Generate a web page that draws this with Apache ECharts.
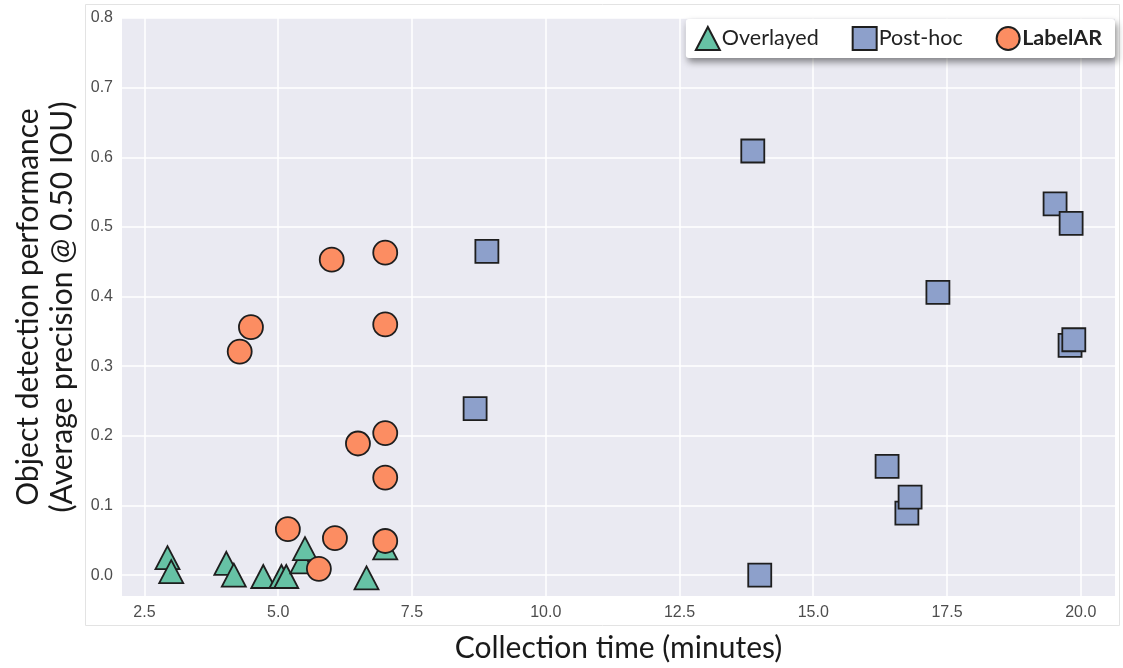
<!DOCTYPE html>
<html>
<head>
<meta charset="utf-8">
<script src="https://cdn.jsdelivr.net/npm/echarts@6/dist/echarts.min.js"></script>
<style>
html,body{margin:0;padding:0;background:#fff;}
#chart{width:1123px;height:668px;}
</style>
</head>
<body>
<div id="chart"></div>
<script>
// ---- data ----
const seriesNames = ['Overlayed', 'Post-hoc', 'LabelAR'];
const overlayedData = [
  [2.93, 0.025], [3.00, 0.005], [4.03, 0.017], [4.17, 0.000], [4.72, -0.002],
  [5.06, -0.002], [5.15, -0.002], [5.45, 0.019], [5.50, 0.038], [6.65, -0.004], [7.00, 0.039]
];
const postHocData = [
  [13.87, 0.609], [8.90, 0.465], [8.68, 0.239], [14.00, 0.000], [19.52, 0.533],
  [19.82, 0.505], [17.33, 0.406], [19.80, 0.330], [19.87, 0.338], [16.38, 0.156],
  [16.75, 0.089], [16.81, 0.112]
];
const labelARData = [
  [6.00, 0.453], [7.00, 0.463], [4.49, 0.356], [4.28, 0.321], [7.00, 0.360],
  [6.49, 0.189], [7.00, 0.204], [7.00, 0.140], [5.18, 0.066], [6.06, 0.053],
  [7.00, 0.049], [5.76, 0.009]
];
const xTicks = [2.5, 5.0, 7.5, 10.0, 12.5, 15.0, 17.5, 20.0];
const yTicks = [0.0, 0.1, 0.2, 0.3, 0.4, 0.5, 0.6, 0.7, 0.8];
const xRange = [2.08, 20.64];
const yRange = [-0.03, 0.8];
const xTitle = 'Collection time (minutes)';
const yTitle = 'Object detection performance\n(Average precision @ 0.50 IOU)';

const chart = echarts.init(document.getElementById('chart'), null, {renderer: 'canvas'});
const tickFont = {fontFamily: 'Liberation Sans', fontSize: 16, color: '#4d4d4d'};
const titleFont = {fontFamily: 'Lato', fontSize: 30, color: '#1a1a1a'};
const edge = {borderColor: '#1e1e1e', borderWidth: 1.8, opacity: 1};

chart.setOption({
  animation: false,
  backgroundColor: '#fff',
  graphic: [{
    type: 'rect', silent: true, z: -1,
    shape: {x: 85.5, y: 4.5, width: 1034, height: 621},
    style: {fill: 'none', stroke: '#e3e3e3', lineWidth: 1}
  }],
  grid: {
    left: 122, right: 8, top: 18, bottom: 72,
    show: true, backgroundColor: '#eaeaf2', borderWidth: 0
  },
  legend: {
    right: 8, top: 19,
    orient: 'horizontal',
    backgroundColor: '#fff',
    borderRadius: 3,
    padding: [7, 13, 7, 9],
    shadowBlur: 7, shadowColor: 'rgba(0,0,0,0.45)', shadowOffsetX: 2, shadowOffsetY: 4,
    itemWidth: 24, itemHeight: 23, itemGap: 33,
    textStyle: {fontFamily: 'Lato', fontSize: 21.5, color: '#222', padding: [0, 0, 0, -3]},
    data: [
      {name: seriesNames[0]},
      {name: seriesNames[1]},
      {name: seriesNames[2], textStyle: {fontWeight: 'bold'}}
    ]
  },
  xAxis: {
    type: 'value', min: xRange[0], max: xRange[1],
    name: xTitle, nameLocation: 'middle', nameGap: 37,
    nameTextStyle: titleFont,
    axisLine: {show: false},
    axisTick: {show: false, customValues: xTicks},
    axisLabel: {customValues: xTicks, margin: 9, formatter: v => v.toFixed(1), ...tickFont},
    splitLine: {show: true, lineStyle: {color: '#fff', width: 1.5}}
  },
  yAxis: {
    type: 'value', min: yRange[0], max: yRange[1],
    name: yTitle, nameLocation: 'middle', nameGap: 43, nameRotate: 90,
    nameTextStyle: {...titleFont, lineHeight: 34},
    axisLine: {show: false},
    axisTick: {show: false, customValues: yTicks},
    axisLabel: {customValues: yTicks, margin: 9, formatter: v => v.toFixed(1), ...tickFont},
    splitLine: {show: true, lineStyle: {color: '#fff', width: 1.5}}
  },
  series: [
    {
      name: seriesNames[0], type: 'scatter', symbol: 'triangle', symbolSize: [24, 23],
      data: overlayedData, itemStyle: {color: '#66c2a5', ...edge}, z: 2
    },
    {
      name: seriesNames[1], type: 'scatter', symbol: 'rect', symbolSize: 23,
      data: postHocData, itemStyle: {color: '#8da0cb', ...edge}, z: 3
    },
    {
      name: seriesNames[2], type: 'scatter', symbol: 'circle', symbolSize: 24,
      data: labelARData, itemStyle: {color: '#fc8d62', ...edge}, z: 4
    }
  ]
});
</script>
</body>
</html>
